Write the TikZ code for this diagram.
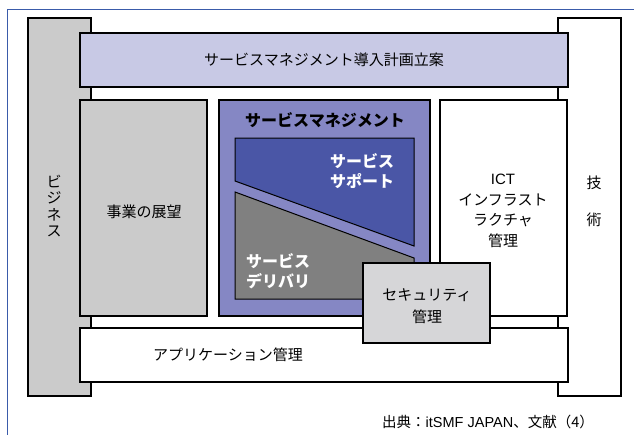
\documentclass[tikz,border=0pt]{standalone}
\usepackage{fontspec}
\setmainfont{Noto Sans CJK JP}
\newfontfamily\cjk{Noto Sans CJK JP}
\newfontfamily\lat{Liberation Sans}
\definecolor{framebl}{HTML}{3A5BAA}
\definecolor{lav}{HTML}{C8C9E5}
\definecolor{smbl}{HTML}{8587C4}
\definecolor{supbl}{HTML}{4A56A6}
\definecolor{delg}{HTML}{808080}
\definecolor{bizg}{HTML}{CBCBCB}
\definecolor{secg}{HTML}{D6D6D8}
\tikzset{
  blk/.style={draw=black, line width=1.4pt},
  lbl/.style={font=\fontsize{15}{21}\selectfont, align=center, inner sep=0pt},
  wlbl/.style={font=\fontsize{16}{20}\selectfont\bfseries, text=white, align=center, inner sep=0pt},
  poly/.style={draw=black, line width=1pt},
}
\begin{document}
\begin{tikzpicture}[x=1pt,y=-1pt]
\useasboundingbox (0,0) rectangle (634,434);
\clip (0,0) rectangle (634,434);
\fill[white] (0,0) rectangle (634,434);
\draw[framebl, line width=0.9pt] (7.5,440) -- (7.5,9) -- (640,9);
% side columns
\draw[blk, fill=bizg] (28,18) rectangle (91,396);
\draw[blk, fill=white] (558,18) rectangle (621,396);
% bars
\draw[blk, fill=lav] (80,33) rectangle (568,87);
\draw[blk, fill=white] (80,328) rectangle (568,382);
% middle boxes
\draw[blk, fill=bizg] (80,100) rectangle (207,316);
\draw[blk, fill=smbl] (219,100) rectangle (430,316);
\draw[blk, fill=white] (440,100) rectangle (567,316);
% inner polygons
\draw[poly, fill=supbl] (235,138) -- (414,138) -- (414,246) -- (235,181) -- cycle;
\draw[poly, fill=delg] (235,192) -- (414,258) -- (414,299) -- (235,299) -- cycle;
% security
\draw[blk, fill=secg] (363,263) rectangle (490,343);
% labels
\node[lbl] (plan) at (324,60) {サービスマネジメント導入計画立案};
\node[lbl] (app) at (228,355) {アプリケーション管理};
\node[lbl] (vision) at (144,212) {事業の展望};
\node[lbl, font=\fontsize{15}{16.5}\selectfont] (biz) at (54,206) {ビ\\ジ\\ネ\\ス};
\node[lbl, font=\fontsize{15}{37}\selectfont] (tech) at (594,201) {技\\術};
\node[lbl, font=\fontsize{15}{20.5}\selectfont] (ict) at (503,211) {{\lat ICT}\\インフラスト\\ラクチャ\\管理};
\node[lbl, font=\fontsize{15}{22.5}\selectfont] (sec) at (427,306) {セキュリティ\\管理};
\node[lbl, font=\fontsize{16}{20}\selectfont\bfseries] (sm) at (325,120) {サービスマネジメント};
\node[wlbl] (sup) at (362,171) {サービス\\サポート};
\node[wlbl] (del) at (278,271) {サービス\\デリバリ};
\node[lbl, font=\fontsize{14.5}{16}\selectfont, anchor=east] (src) at (594,422) {出典：{\lat itSMF JAPAN}、文献（4）};
\end{tikzpicture}
\end{document}
